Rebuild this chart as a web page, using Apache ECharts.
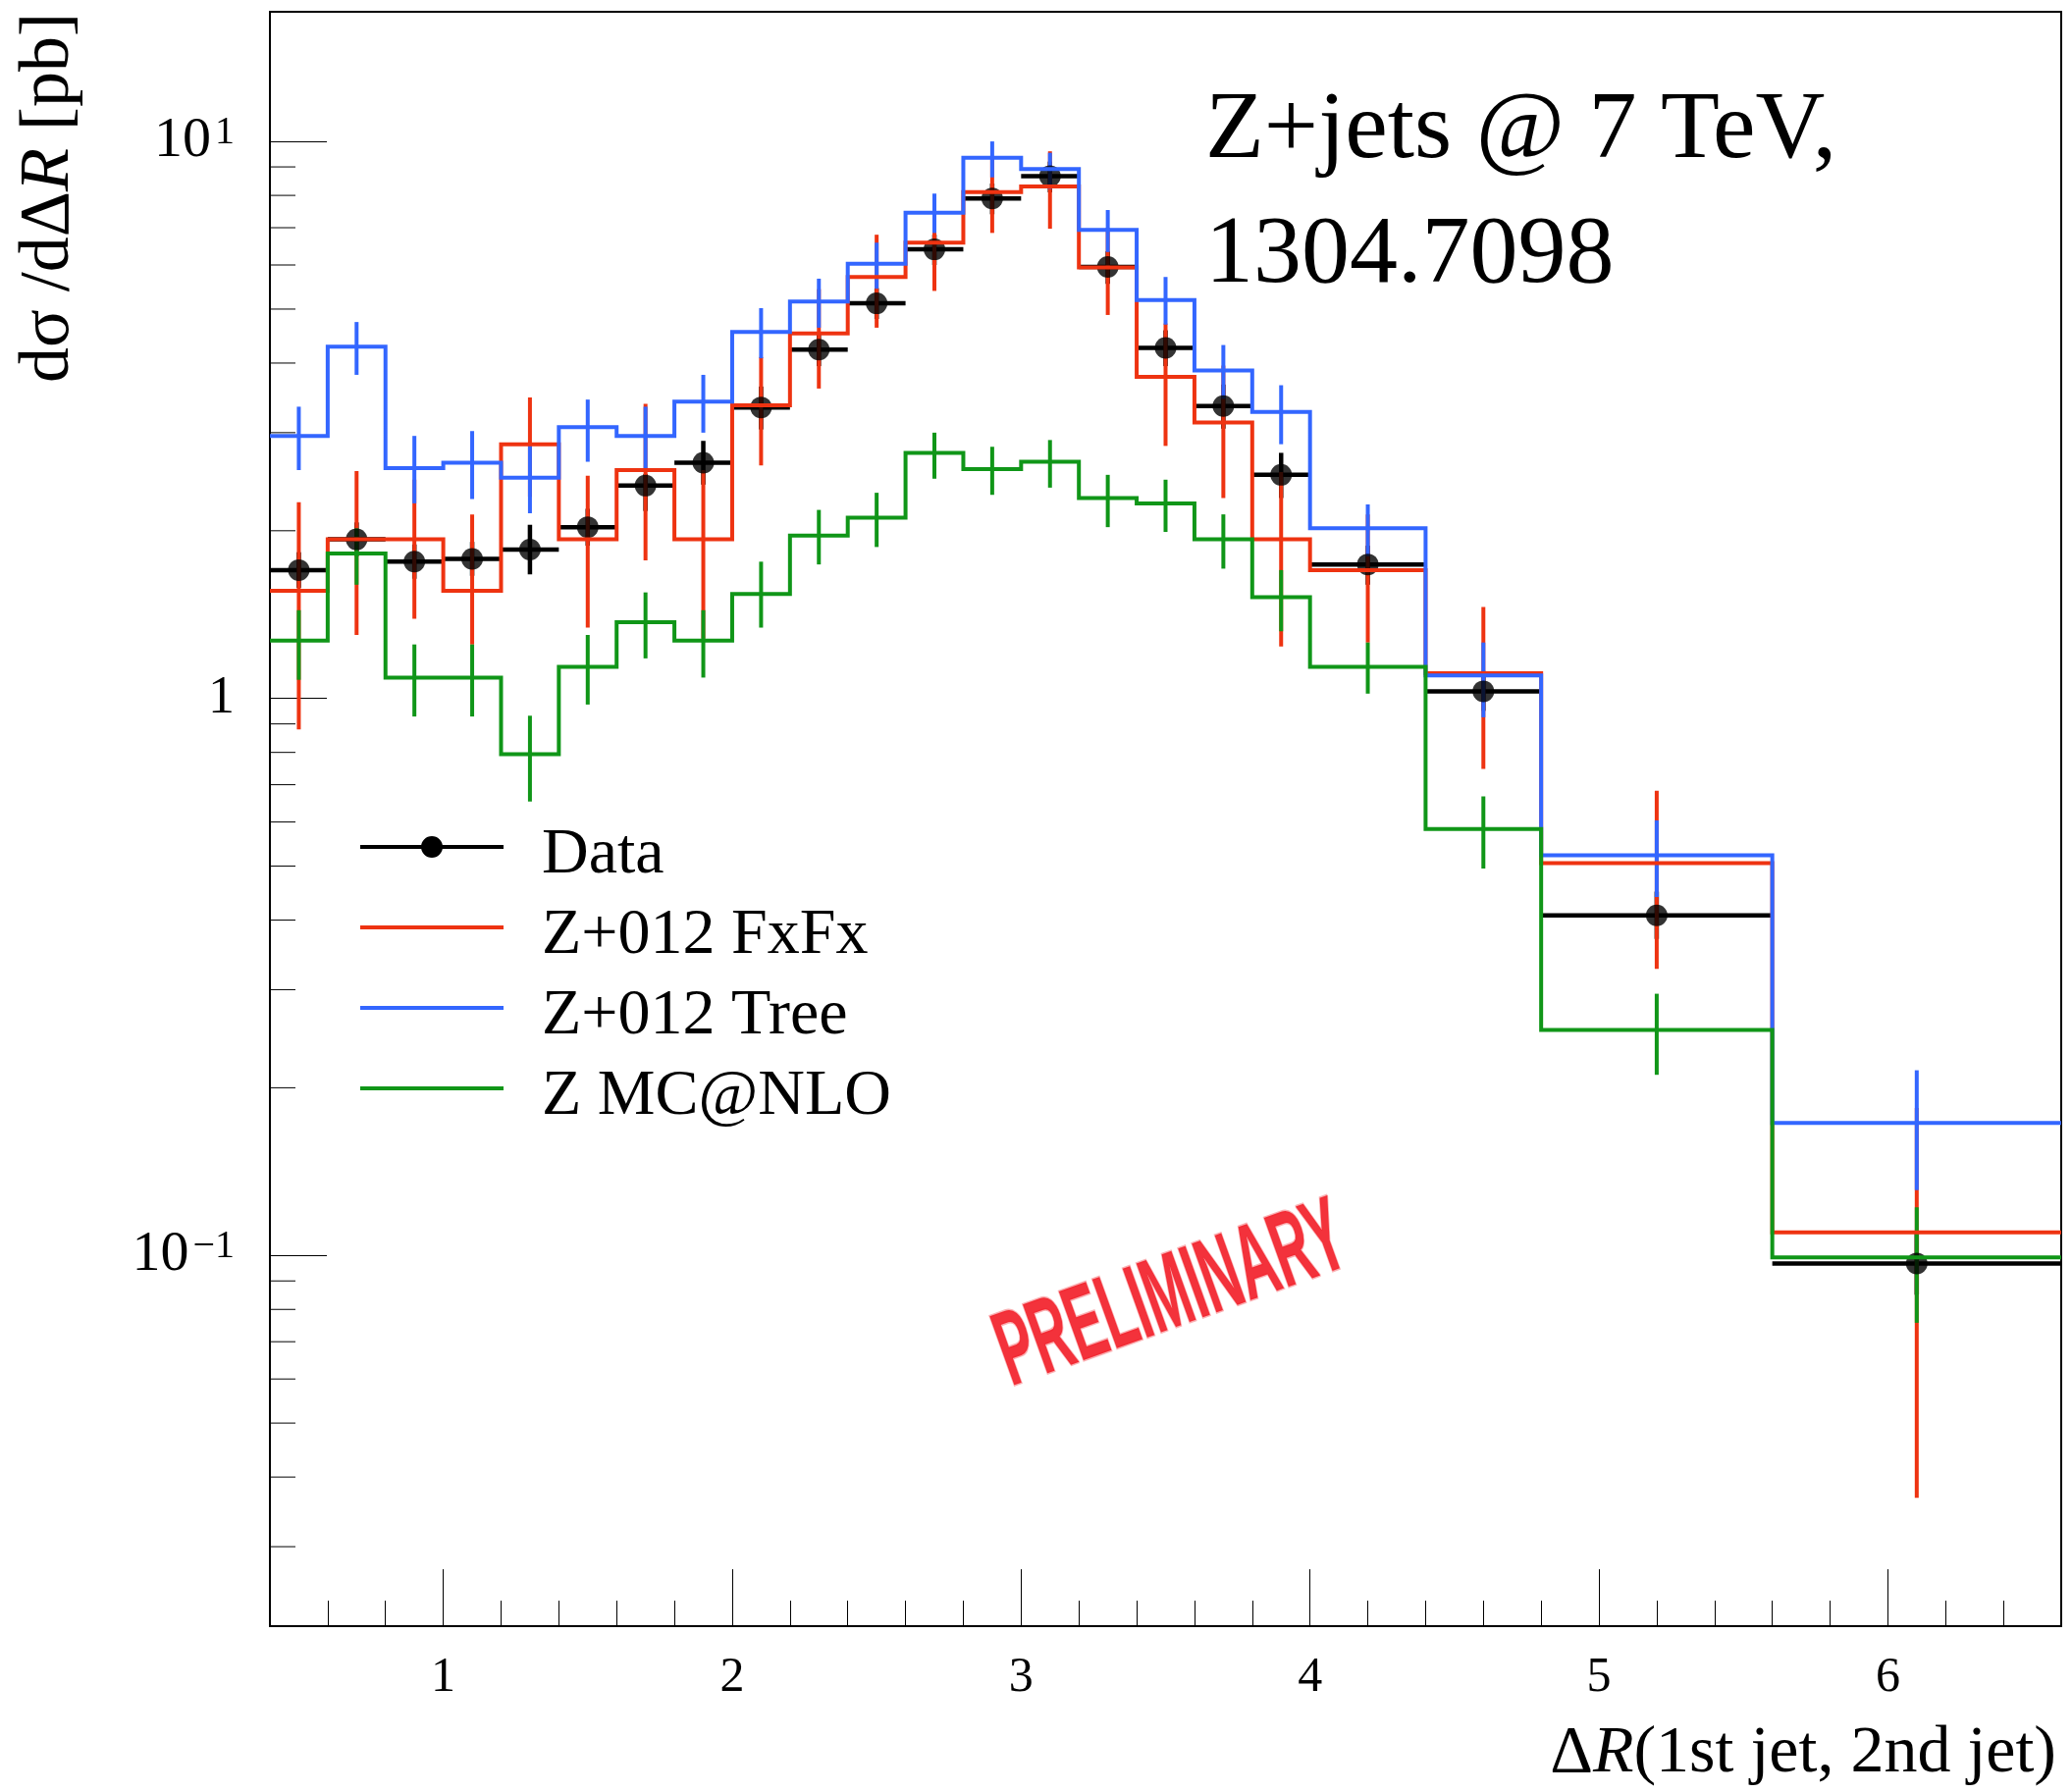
<!DOCTYPE html>
<html>
<head>
<meta charset="utf-8">
<script src="https://cdn.jsdelivr.net/npm/echarts@6.0.0/dist/echarts.min.js"></script>
<style>
html, body { margin: 0; padding: 0; background: #fff; }
#chart { width: 2111px; height: 1826px; }
</style>
</head>
<body>
<div id="chart"></div>
<script>
// ---------- data ----------
const binEdges = [0.4,0.6,0.8,1.0,1.2,1.4,1.6,1.8,2.0,2.2,2.4,2.6,2.8,3.0,3.2,3.4,3.6,3.8,4.0,4.4,4.8,5.6,6.6];

const dataValues   = [1.70,1.93,1.76,1.78,1.85,2.03,2.41,2.65,3.33,4.23,5.12,6.40,7.90,8.66,5.95,4.26,3.35,2.52,1.74,1.03,0.408,0.0967];
const dataErrLow   = [1.58,1.80,1.64,1.66,1.67,1.88,2.17,2.42,3.04,3.95,4.80,6.00,7.40,8.10,5.55,3.95,3.05,2.29,1.60,0.95,0.37,0.085];
const dataErrHigh  = [1.83,2.07,1.89,1.91,2.05,2.19,2.53,2.90,3.63,4.52,5.45,6.80,8.40,9.20,6.35,4.58,3.66,2.76,1.88,1.12,0.45,0.11];

const fxfxValues   = [1.56,1.93,1.93,1.56,2.86,1.93,2.57,1.93,3.36,4.52,5.71,6.58,8.11,8.30,5.94,3.78,3.13,1.93,1.70,1.11,0.506,0.110];
const fxfxErrLow   = [0.88,1.30,1.39,1.25,2.30,1.34,1.77,1.28,2.62,3.60,4.63,5.39,6.85,6.97,4.88,2.84,2.29,1.24,1.26,0.747,0.327,0.0367];
const fxfxErrHigh  = [2.25,2.56,2.47,2.14,3.47,2.51,3.38,2.57,4.10,5.43,6.80,7.76,9.37,9.60,7.00,4.71,3.96,2.55,2.14,1.46,0.683,0.184];

const treeValues   = [2.96,4.28,2.59,2.65,2.49,3.07,2.96,3.41,4.55,5.16,6.03,7.45,9.35,8.92,6.94,5.19,3.88,3.27,2.02,1.10,0.523,0.173];
const treeErrLow   = [2.57,3.81,2.24,2.28,2.15,2.66,2.57,3.00,4.08,4.63,5.44,6.85,8.62,8.22,6.33,4.69,3.45,2.86,1.80,0.925,0.44,0.131];
const treeErrHigh  = [3.34,4.74,2.96,3.02,2.85,3.44,3.34,3.81,5.02,5.67,6.58,8.06,10.0,9.54,7.53,5.71,4.31,3.65,2.23,1.26,0.604,0.215];

const mcnloValues  = [1.27,1.82,1.09,1.09,0.794,1.14,1.37,1.27,1.54,1.96,2.11,2.76,2.58,2.66,2.29,2.24,1.93,1.52,1.14,0.583,0.254,0.0992];
const mcnloErrLow  = [1.08,1.60,0.928,0.928,0.653,0.975,1.18,1.09,1.34,1.74,1.87,2.48,2.32,2.39,2.03,1.99,1.71,1.32,1.02,0.495,0.211,0.0757];
const mcnloErrHigh = [1.44,2.02,1.25,1.25,0.931,1.30,1.55,1.44,1.76,2.18,2.34,3.00,2.83,2.91,2.52,2.47,2.14,1.70,1.26,0.667,0.295,0.122];

const yMinorTicks = [0.03,0.04,0.05,0.06,0.07,0.08,0.09,0.2,0.3,0.4,0.5,0.6,0.7,0.8,0.9,2,3,4,5,6,7,8,9];

const seriesNames = ['Data', 'Z+012 FxFx', 'Z+012 Tree', 'Z MC@NLO'];
const titleLines = ['Z+jets @ 7 TeV,', '1304.7098'];

// ---------- settings ----------
const X_MIN = 0.4, X_MAX = 6.6, Y_MIN = 0.0216, Y_MAX = 17.09;
const C_RED = '#EE3311', C_BLUE = '#3366FF', C_GREEN = '#109618';
const SERIF = 'Liberation Serif';

// ---------- helpers ----------
function centers() { return binEdges.slice(0, -1).map((e, i) => (e + binEdges[i + 1]) / 2); }
function histPoints(vals) {
  const pts = [];
  vals.forEach((v, i) => { pts.push([binEdges[i], v]); pts.push([binEdges[i + 1], v]); });
  return pts;
}
function errPoints(lo, hi) { const c = centers(); return lo.map((l, i) => [c[i], l, hi[i]]); }
function errRender(color) {
  return function (params, api) {
    const x = api.value(0);
    const p1 = api.coord([x, api.value(1)]);
    const p2 = api.coord([x, api.value(2)]);
    return { type: 'line', shape: { x1: p1[0], y1: p1[1], x2: p2[0], y2: p2[1] },
             style: { stroke: color, lineWidth: 4, lineCap: 'butt' } };
  };
}
function histSeries(name, color, vals) {
  return { type: 'line', name: name, color: color, data: histPoints(vals), symbol: 'none',
           lineStyle: { width: 4, color: color, join: 'miter', cap: 'butt' }, silent: true };
}
function errSeries(name, color, lo, hi) {
  return { type: 'custom', name: name, color: color, itemStyle: { color: color },
           data: errPoints(lo, hi), renderItem: errRender(color), silent: true };
}

const c = centers();
const dataBars = dataValues.map((v, i) => [c[i], v, binEdges[i], binEdges[i + 1], dataErrLow[i], dataErrHigh[i]]);
const dataPts = dataValues.map((v, i) => [c[i], v]);

const dataIcon = 'path://M0,9L146,9L146,13L0,13Z M84,11A11,11,0,1,1,62,11A11,11,0,1,1,84,11Z';
const legendText = {
  fontFamily: SERIF, fontSize: 66, lineHeight: 44, color: '#000', padding: [18, 0, 0, 34],
  rich: { t: { fontFamily: SERIF, fontSize: 66, lineHeight: 44, color: '#000' } }
};
const legendFormatter = name => '{t|' + name + '}';

const chart = echarts.init(document.getElementById('chart'), null, { renderer: 'canvas', width: 2111, height: 1826 });

const option = {
  animation: false,
  backgroundColor: '#fff',
  grid: { left: 275, right: 11, top: 12, bottom: 169, show: true, borderColor: '#000', borderWidth: 2,
          backgroundColor: 'transparent', containLabel: false, outerBoundsMode: 'none' },
  title: {
    text: titleLines.join('\n'), left: 1228, top: 71, padding: 0,
    textStyle: { fontFamily: SERIF, fontSize: 98, lineHeight: 127, fontWeight: 'normal', color: '#000' }
  },
  legend: [
    { orient: 'vertical', left: 367, top: 832, padding: 0, itemWidth: 146, itemHeight: 22, itemGap: 9,
      selectedMode: false, data: [{ name: seriesNames[0], icon: dataIcon }], textStyle: legendText,
      formatter: legendFormatter },
    { orient: 'vertical', left: 367, top: 914, padding: 0, itemWidth: 146, itemHeight: 4, itemGap: 9,
      selectedMode: false,
      data: [{ name: seriesNames[1], icon: 'rect' }, { name: seriesNames[2], icon: 'rect' }, { name: seriesNames[3], icon: 'rect' }],
      textStyle: legendText, formatter: legendFormatter }
  ],
  xAxis: {
    type: 'value', min: X_MIN, max: X_MAX, splitNumber: 5,
    axisLine: { show: false },
    splitLine: { show: false },
    axisTick: { show: true, inside: true, length: 58, lineStyle: { color: '#000', width: 1 } },
    minorTick: { show: true, splitNumber: 5, length: 26, lineStyle: { color: '#000', width: 1 } },
    axisLabel: {
      margin: 28, fontFamily: SERIF, fontSize: 50, color: '#000',
      formatter: v => (Math.abs(v - Math.round(v)) < 1e-6 ? String(Math.round(v)) : '')
    }
  },
  yAxis: {
    type: 'log', logBase: 10, min: Y_MIN, max: Y_MAX,
    axisLine: { show: false },
    splitLine: { show: false },
    axisTick: { show: true, inside: true, length: 58, lineStyle: { color: '#000', width: 1 } },
    axisLabel: {
      margin: 36, fontFamily: SERIF, fontSize: 54, color: '#000',
      formatter: v => {
        const l = Math.log10(v), n = Math.round(l);
        if (Math.abs(l - n) > 1e-6) return '';
        if (n === 0) return '1';
        return '{b|10}{s|' + (n < 0 ? '\u2212' : '') + Math.abs(n) + '}';
      },
      rich: {
        b: { fontFamily: SERIF, fontSize: 58, lineHeight: 58, color: '#000', verticalAlign: 'bottom', padding: [22, 0, 0, 0] },
        s: { fontFamily: SERIF, fontSize: 40, lineHeight: 40, color: '#000', verticalAlign: 'top', padding: [0, 0, 0, 4] }
      }
    }
  },
  graphic: [
    { type: 'text', x: 50, y: 13, rotation: Math.PI / 2, silent: true,
      style: { text: 'd\u03C3 /d\u0394{i|R} [pb]', fontFamily: SERIF, fontSize: 72, fill: '#000',
               align: 'right', verticalAlign: 'middle',
               rich: { i: { fontFamily: SERIF, fontSize: 72, fontStyle: 'italic', fill: '#000' } } } },
    { type: 'text', x: 2095, y: 1787, silent: true,
      style: { text: '\u0394{i|R}(1st jet, 2nd jet)', fontFamily: SERIF, fontSize: 68, fill: '#000',
               align: 'right', verticalAlign: 'middle',
               rich: { i: { fontFamily: SERIF, fontSize: 68, fontStyle: 'italic', fill: '#000' } } } },
    { type: 'text', x: 1194, y: 1322, rotation: 0.345, scaleX: 0.5, scaleY: 1, silent: true, z: 50,
      style: { text: 'PRELIMINARY', fontFamily: 'Liberation Sans', fontWeight: 'bold', fontSize: 108,
               fill: 'rgba(242,28,38,0.9)', stroke: 'rgba(242,28,38,0.35)', lineWidth: 3,
               align: 'center', verticalAlign: 'middle' } }
  ],
  series: [
    { type: 'custom', name: seriesNames[0], color: '#000', itemStyle: { color: '#000' }, data: dataBars, silent: true,
      renderItem: function (params, api) {
        const a = api.coord([api.value(2), api.value(1)]);
        const b = api.coord([api.value(3), api.value(1)]);
        const p = api.coord([api.value(0), api.value(4)]);
        const q = api.coord([api.value(0), api.value(5)]);
        return { type: 'group', children: [
          { type: 'line', shape: { x1: a[0], y1: a[1], x2: b[0], y2: b[1] }, style: { stroke: '#000', lineWidth: 4.5 } },
          { type: 'line', shape: { x1: p[0], y1: p[1], x2: q[0], y2: q[1] }, style: { stroke: '#000', lineWidth: 4.5 } }
        ] };
      } },
    { type: 'scatter', name: seriesNames[0], color: '#000', data: dataPts, symbol: 'circle', symbolSize: 22,
      itemStyle: { color: '#000' }, silent: true },
    histSeries(seriesNames[1], C_RED, fxfxValues),
    errSeries(seriesNames[1], C_RED, fxfxErrLow, fxfxErrHigh),
    histSeries(seriesNames[2], C_BLUE, treeValues),
    errSeries(seriesNames[2], C_BLUE, treeErrLow, treeErrHigh),
    histSeries(seriesNames[3], C_GREEN, mcnloValues),
    errSeries(seriesNames[3], C_GREEN, mcnloErrLow, mcnloErrHigh),
    { type: 'custom', name: 'yMinor', silent: true, clip: false, z: 10,
      data: yMinorTicks.map(v => [X_MIN, v]),
      renderItem: function (params, api) {
        const p = api.coord([api.value(0), api.value(1)]);
        return { type: 'line', shape: { x1: p[0], y1: p[1], x2: p[0] + 26, y2: p[1] },
                 style: { stroke: '#000', lineWidth: 1 } };
      } }
  ]
};
chart.setOption(option);
</script>
</body>
</html>
